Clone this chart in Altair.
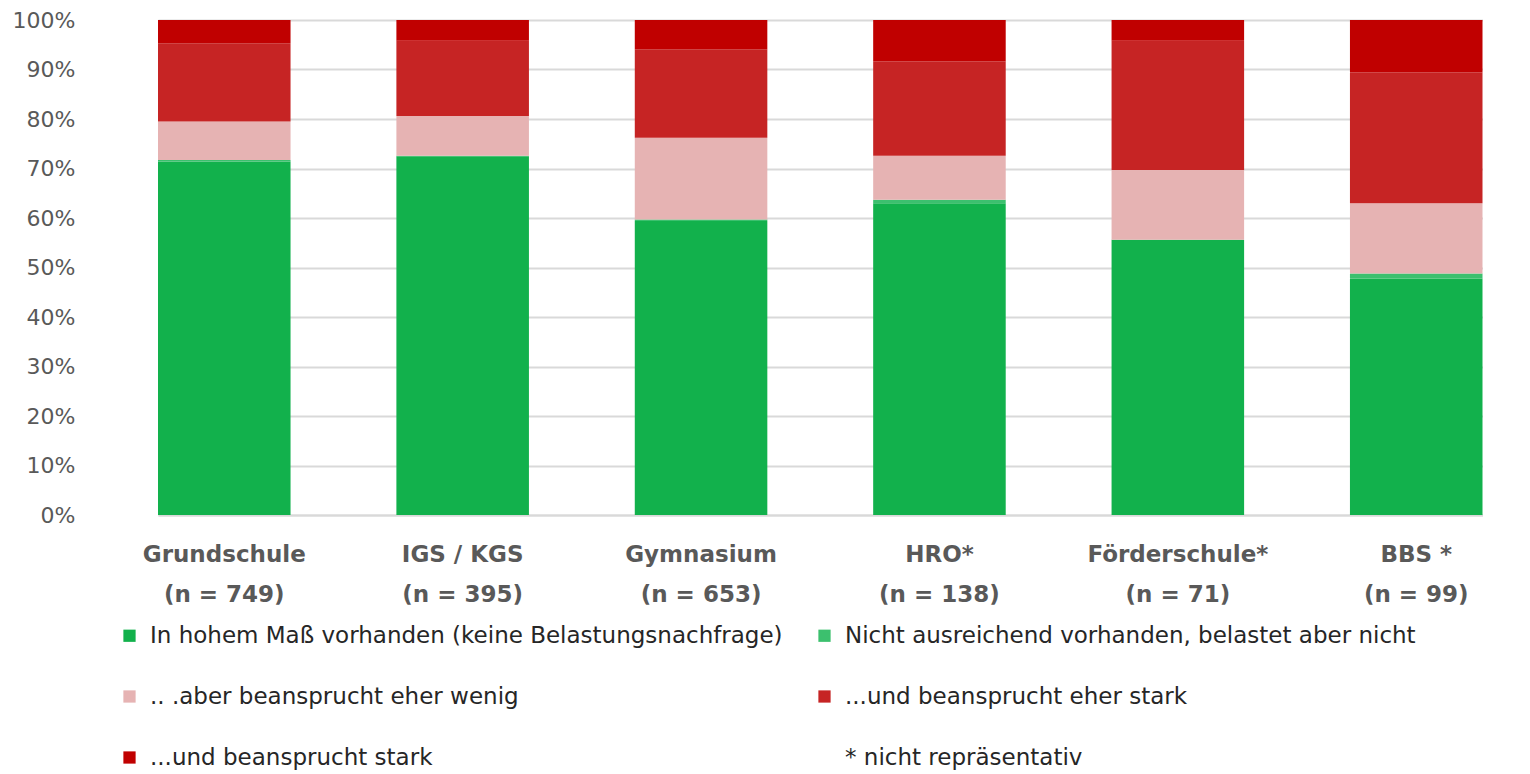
import altair as alt
import pandas as pd

schools = ["Grundschule|(n = 749)", "IGS / KGS|(n = 395)", "Gymnasium|(n = 653)",
           "HRO*|(n = 138)", "Förderschule*|(n = 71)", "BBS *|(n = 99)"]

categories = [
    "In hohem Maß vorhanden (keine Belastungsnachfrage)",
    "Nicht ausreichend vorhanden, belastet aber nicht",
    ".. .aber beansprucht eher wenig",
    "...und beansprucht eher stark",
    "...und beansprucht stark",
]
note = "* nicht repräsentativ"

hoch = [71.4, 72.5, 59.4, 63.0, 55.6, 47.8]
nicht_belastet = [0.3, 0.1, 0.3, 0.7, 0.0, 1.0]
eher_wenig = [7.8, 8.0, 16.5, 8.9, 14.1, 14.2]
eher_stark = [15.8, 15.2, 17.9, 19.0, 26.1, 26.4]
stark = [4.7, 4.2, 5.9, 8.4, 4.2, 10.6]

series = [hoch, nicht_belastet, eher_wenig, eher_stark, stark]
color_of = {
    categories[0]: "#12B14C",
    categories[1]: "#3CC06E",
    categories[2]: "#E6B3B3",
    categories[3]: "#C62424",
    categories[4]: "#C00000",
    note: "transparent",
}
# legend is filled column by column: col 1 = entries 0, 2, 4; col 2 = entries 1, 3, note
legend_order = [categories[0], categories[2], categories[4],
                categories[1], categories[3], note]

rows = []
for ci, (cat, vals) in enumerate(zip(categories, series)):
    for s, v in zip(schools, vals):
        rows.append({"school": s, "cat": cat, "order": ci, "value": v / 100})
df = pd.DataFrame(rows)

font = "DejaVu Sans"

chart = alt.Chart(df).mark_bar().encode(
    x=alt.X("school:N", sort=schools,
            scale=alt.Scale(range=[55, 1379.5], paddingInner=0.444, paddingOuter=0),
            axis=alt.Axis(title=None, labelAngle=0, ticks=False,
                          labelExpr="split(datum.label, '|')", labelLimit=400,
                          labelFont=font, labelFontSize=23, labelFontWeight="bold",
                          labelColor="#595959", labelPadding=28, labelLineHeight=40,
                          domainColor="#D9D9D9", domainWidth=2)),
    y=alt.Y("value:Q", stack="zero",
            scale=alt.Scale(domain=[0, 1], nice=False),
            axis=alt.Axis(title=None, format=".0%", values=[i / 10 for i in range(11)],
                          ticks=False, domain=False, labelPadding=28,
                          labelFont=font, labelFontSize=22, labelColor="#595959",
                          gridColor="#D9D9D9", gridWidth=2)),
    color=alt.Color("cat:N",
                    scale=alt.Scale(domain=legend_order,
                                    range=[color_of[c] for c in legend_order]),
                    legend=alt.Legend(title=None, orient="none", legendX=15, legendY=604,
                                      columns=2, columnPadding=30, rowPadding=37,
                                      symbolType="square", symbolSize=150,
                                      symbolStrokeWidth=0, labelOffset=9,
                                      labelFont=font, labelFontSize=23,
                                      labelColor="#262626", labelLimit=900,
                                      gridAlign="all")),
    order=alt.Order("order:Q"),
).properties(
    width=1419, height=495,
    autosize=alt.AutoSizeParams(type="none"),
    padding={"left": 95, "top": 12, "right": 0, "bottom": 259},
).configure_view(stroke=None)

chart.save("out.html", embed_options={"renderer": "svg", "actions": False})
